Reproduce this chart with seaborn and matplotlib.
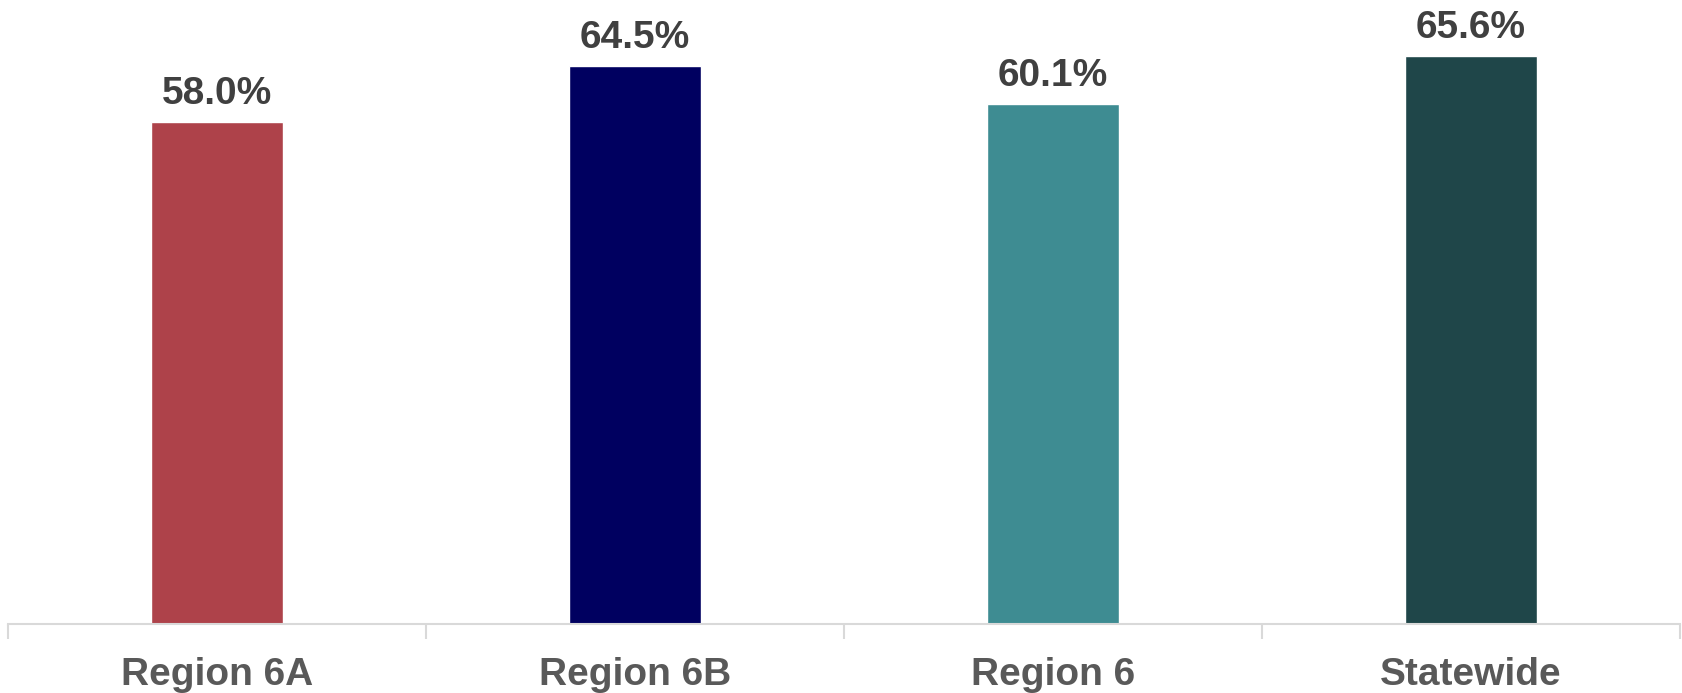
import matplotlib
matplotlib.use("Agg")
import matplotlib.pyplot as plt
import seaborn as sns
import pandas as pd
import numpy as np

regions = ["Region 6A", "Region 6B", "Region 6", "Statewide"]
values = [58.0, 64.5, 60.1, 65.6]
colors = ["#AE424A", "#000060", "#3E8C92", "#1F4649"]

sns.set_style("white")
plt.rcParams['font.family'] = ['Liberation Sans', 'DejaVu Sans']

df = pd.DataFrame({"region": regions, "value": values})

fig = plt.figure(figsize=(16.82, 6.93), dpi=100)
ax = fig.add_axes([8 / 1682, 69 / 693, 1672 / 1682, 606 / 693])
sns.barplot(data=df, x="region", y="value", hue="region", palette=colors,
            width=0.317, legend=False, ax=ax, saturation=1)

ax.set_ylim(0, 70)
ax.set_xlim(-0.5, len(regions) - 0.5)
ax.set_yticks([])
ax.set_xlabel("")
ax.set_ylabel("")
for s in ["top", "right", "left"]:
    ax.spines[s].set_visible(False)
ax.spines["bottom"].set_color("#D9D9D9")
ax.spines["bottom"].set_linewidth(1.5)

ax.set_xticks(np.arange(-0.5, len(regions)), minor=True)
ax.tick_params(axis="x", which="minor", bottom=True, length=11, width=1.5,
               color="#D9D9D9", direction="out")
ax.tick_params(axis="x", which="major", length=0, pad=24, labelsize=28, labelcolor="#595959")
for lab in ax.get_xticklabels():
    lab.set_fontweight("bold")

for cont in ax.containers:
    ax.bar_label(cont, fmt="%.1f%%", padding=7, fontsize=28, fontweight="bold", color="#404040")

fig.savefig("out.png", dpi=100)
